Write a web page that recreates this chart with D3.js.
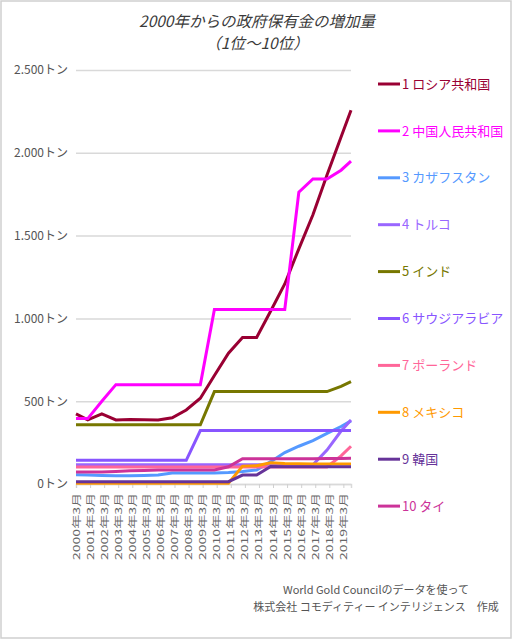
<!DOCTYPE html>
<html><head><meta charset="utf-8">
<script src="https://cdn.jsdelivr.net/npm/d3@7"></script>
<style>
html,body{margin:0;padding:0;background:#fff;}
svg{display:block;}
text{font-family:"Noto Sans CJK JP","Noto Sans",sans-serif;}
</style></head><body>
<svg id="c" width="514" height="640"></svg>
<script>
// ---- data ----
const dates = ["2000-03-01","2000-12-31","2001-12-31","2002-12-31","2003-12-31","2004-12-31","2005-12-31",
  "2006-12-31","2007-12-31","2008-12-31","2009-12-31","2010-12-31","2011-12-31","2012-12-31","2013-12-31",
  "2014-12-31","2015-12-31","2016-12-31","2017-12-31","2018-12-31","2019-09-15"];

const seriesNames = ["1 ロシア共和国","2 中国人民共和国","3 カザフスタン","4 トルコ","5 インド",
  "6 サウジアラビア","7 ポーランド","8 メキシコ","9 韓国","10 タイ"];
const seriesColors = ["#990033","#ff00ff","#5599ff","#9966ff","#777700",
  "#8855ff","#ff6699","#ff9900","#663399","#cc3399"];

const russia     = [423,387,423,387,390,388,387,400,447,518,655,790,885,885,1045,1208,1420,1626,1866,2095,2257];
const china      = [395,395,500,600,600,600,600,600,600,600,1054,1054,1054,1054,1054,1054,1762,1842,1842,1895,1950];
const kazakhstan = [56,54,52,50,50,52,55,66,67,67,67,70,75,85,135,190,228,262,306,347,381];
const turkey     = [116,116,116,116,116,116,116,116,116,116,116,116,116,116,116,116,116,116,205,320,387];
const india      = [358,358,358,358,358,358,358,358,358,358,558,558,558,558,558,558,558,558,558,590,618];
const saudi      = [143,143,143,143,143,143,143,143,143,323,323,323,323,323,323,323,323,323,323,323,323];
const poland     = [103,103,103,103,103,103,103,103,103,103,103,103,103,103,103,103,103,103,103,170,228];
const mexico     = [5,5,5,5,5,5,5,5,5,5,5,5,108,110,128,124,122,121,121,121,121];
const korea      = [14,14,14,14,14,14,14,14,14,14,14,14,54,54,106,104,104,104,104,104,104];
const thailand   = [73,73,73,76,80,82,84,84,84,84,85,104,153,153,153,153,153,153,154,154,155];
const seriesValues = [russia,china,kazakhstan,turkey,india,saudi,poland,mexico,korea,thailand];

const xTickLabels = ["2000年3月","2001年3月","2002年3月","2003年3月","2004年3月","2005年3月","2006年3月",
  "2007年3月","2008年3月","2009年3月","2010年3月","2011年3月","2012年3月","2013年3月","2014年3月",
  "2015年3月","2016年3月","2017年3月","2018年3月","2019年3月"];
const yTickValues = [0,500,1000,1500,2000,2500];
const yTickLabels = ["0トン","500トン","1.000トン","1.500トン","2.000トン","2.500トン"];

const titleLines = ["2000年からの政府保有金の増加量","（1位～10位）"];
const footerLines = ["World Gold Councilのデータを使って","株式会社 コモディティー インテリジェンス　作成"];

// ---- drawing ----
const svg = d3.select("#c");
const parseD = d3.timeParse("%Y-%m-%d");
const parseTick = d3.timeParse("%Y年%m月");
const xDates = dates.map(parseD);

const L = 76, R = 351, T = 70, B = 484;
const x = d3.scaleTime().domain([xDates[0], xDates[xDates.length-1]]).range([L, R]);
const y = d3.scaleLinear().domain([0, 2500]).range([B, T]);

svg.append("rect").attr("x",1).attr("y",1).attr("width",510).attr("height",637)
  .attr("fill","#fff").attr("stroke","#cfcfcf").attr("stroke-width",1.5);

// title
svg.append("g").selectAll("text").data(titleLines).join("text")
  .attr("x",257).attr("y",(d,i)=>27+i*22)
  .attr("text-anchor","middle").attr("font-size",15.5).attr("font-style","italic")
  .attr("fill","#3a3a3a").text(d=>d);

// y axis + grid
const yAxis = d3.axisLeft(y).tickValues(yTickValues)
  .tickFormat((d,i)=>yTickLabels[i]).tickSize(-(R-L)).tickPadding(8);
const gy = svg.append("g").attr("transform",`translate(${L},0)`).call(yAxis);
gy.select(".domain").remove();
gy.selectAll(".tick line").attr("stroke","#d9d9d9").attr("stroke-width",1.5);
gy.selectAll(".tick text").attr("fill","#555").attr("font-size",12)
  .style("font-family",'"Noto Sans CJK JP",sans-serif');

// x axis
const tickDates = xTickLabels.map(parseTick);
const xAxis = d3.axisBottom(x).tickValues(tickDates).tickSize(4).tickFormat("");
const gx = svg.append("g").attr("transform",`translate(0,${B})`).call(xAxis);
gx.select(".domain").attr("stroke","#d9d9d9").attr("stroke-width",1.5);
gx.selectAll(".tick line").attr("stroke","#d0d0d0");
svg.append("g").selectAll("text").data(xTickLabels).join("text")
  .attr("transform",(d,i)=>`translate(${x(tickDates[i])+3.5},493) rotate(-90)`)
  .attr("text-anchor","end").attr("font-size",9.5).attr("fill","#666")
  .attr("textLength",67).attr("lengthAdjust","spacingAndGlyphs")
  .text(d=>d);

// lines
const line = d3.line().x((d,i)=>x(xDates[i])).y(d=>y(d));
svg.append("g").selectAll("path").data(seriesValues).join("path")
  .attr("d",d=>line(d)).attr("fill","none")
  .attr("stroke",(d,i)=>seriesColors[i]).attr("stroke-width",3)
  .attr("stroke-linejoin","miter");

// legend
const lg = svg.append("g").selectAll("g").data(seriesNames).join("g")
  .attr("transform",(d,i)=>`translate(378,${84+i*46.9})`);
lg.append("line").attr("x1",0).attr("x2",22).attr("y1",0).attr("y2",0)
  .attr("stroke",(d,i)=>seriesColors[i]).attr("stroke-width",3);
lg.append("text").attr("x",24).attr("y",0).attr("dy","0.36em")
  .attr("font-size",13).attr("fill",(d,i)=>seriesColors[i]).text(d=>d);

// footer
svg.append("g").selectAll("text").data(footerLines).join("text")
  .attr("x",376).attr("y",(d,i)=>594+i*17)
  .attr("text-anchor","middle").attr("font-size",11).attr("fill","#555").text(d=>d);
</script>
</body></html>
